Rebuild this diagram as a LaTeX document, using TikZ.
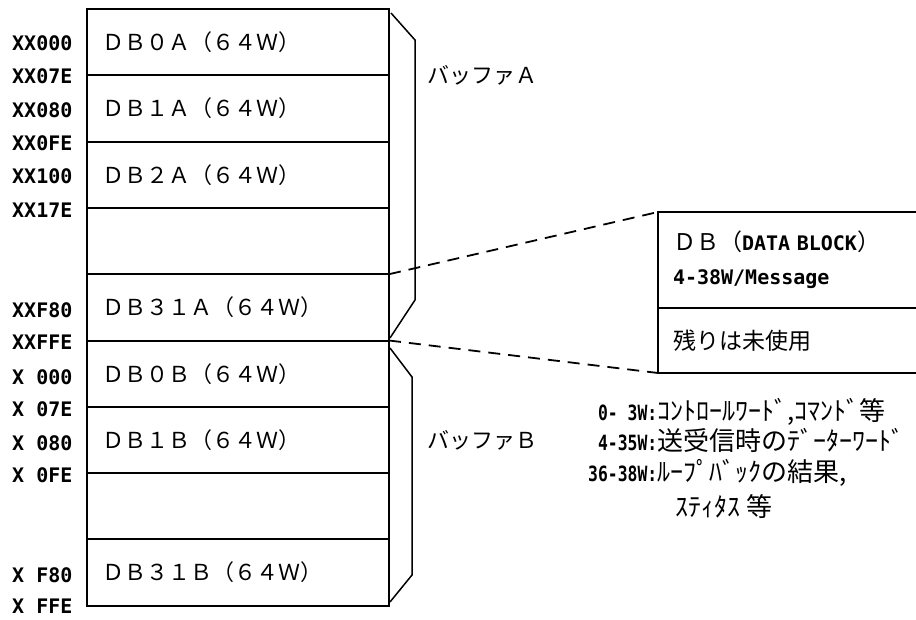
\documentclass[tikz,border=0pt]{standalone}
\usepackage{fontspec}
\newfontfamily\jpfont{Noto Sans CJK JP}
\newfontfamily\adrfont{DejaVu Sans Mono}
\newfontfamily\narrowfont[FakeStretch=0.78]{DejaVu Sans Mono}
\usetikzlibrary{positioning}

\begin{document}
\begin{tikzpicture}[x=1pt, y=-1pt,
  blk/.style={draw, line width=2pt, outer sep=0pt, minimum height=66.3pt,
    text width=272pt, inner xsep=15pt, inner ysep=0pt, align=left,
    font=\jpfont\fontsize{22}{22}\selectfont},
  dbx/.style={draw, line width=2pt, outer sep=0pt, text width=245pt,
    inner xsep=15pt, inner ysep=0pt, align=left},
  adr/.style={anchor=west, inner sep=0pt, font=\adrfont\bfseries\fontsize{20}{20}\selectfont},
  buf/.style={anchor=west, inner sep=0pt, font=\jpfont\fontsize{22}{22}\selectfont},
  zoomline/.style={line width=1.8pt, dash pattern=on 12pt off 8pt}]
  \path[use as bounding box, fill=white] (0,0) rectangle (916,619);

  \node[blk, anchor=north west] (r0) at (87,9) {ＤＢ０Ａ（６４Ｗ）};
  \node[blk, below=0pt of r0] (r1) {ＤＢ１Ａ（６４Ｗ）};
  \node[blk, below=0pt of r1] (r2) {ＤＢ２Ａ（６４Ｗ）};
  \node[blk, below=0pt of r2] (r3) {};
  \node[blk, below=0pt of r3] (r4) {ＤＢ３１Ａ（６４Ｗ）};
  \node[blk, below=0pt of r4] (r5) {ＤＢ０Ｂ（６４Ｗ）};
  \node[blk, below=0pt of r5] (r6) {ＤＢ１Ｂ（６４Ｗ）};
  \node[blk, below=0pt of r6] (r7) {};
  \node[blk, below=0pt of r7] (r8) {ＤＢ３１Ｂ（６４Ｗ）};

  \node[adr] (s0) at (12,43)  {XX000};
  \node[adr] (e0) at (12,76)  {XX07E};
  \node[adr] (s1) at (12,110) {XX080};
  \node[adr] (e1) at (12,143) {XX0FE};
  \node[adr] (s2) at (12,176) {XX100};
  \node[adr] (e2) at (12,210) {XX17E};
  \node[adr] (s4) at (12,310) {XXF80};
  \node[adr] (e4) at (12,342) {XXFFE};
  \node[adr] (s5) at (12,377) {X 000};
  \node[adr] (e5) at (12,409) {X 07E};
  \node[adr] (s6) at (12,443) {X 080};
  \node[adr] (e6) at (12,475) {X 0FE};
  \node[adr] (s8) at (12,575) {X F80};
  \node[adr] (e8) at (12,606) {X FFE};

  \draw[line width=1.5pt] (391,13) -- (415,40) -- (415,300) -- (390,338);
  \draw[line width=1.5pt] (390,348) -- (412,377) -- (412,575) -- (390,602);
  \node[buf] (bufa) at (427,75)  {バッファＡ};
  \node[buf] (bufb) at (427,440) {バッファＢ};

  \node[dbx, minimum height=96pt, anchor=north west,
    font=\adrfont\bfseries\fontsize{20}{34}\selectfont] (dbtop) at (658,212)
    {{\jpfont\mdseries\fontsize{23}{34}\selectfont ＤＢ（}DATA BLOCK{\jpfont\mdseries\fontsize{23}{34}\selectfont ）}\\4-38W/Message};
  \node[dbx, minimum height=65pt, below=0pt of dbtop,
    font=\jpfont\fontsize{23}{23}\selectfont] (dbrest) {残りは未使用};

  \draw[zoomline] (r4.north east) -- (dbtop.north west);
  \draw[zoomline] (r4.south east) -- (dbrest.south west);

  \node[anchor=base west, inner sep=0pt, font=\fontsize{26}{27}\selectfont] (note) at (588,420) {%
    \begin{tabular}[t]{@{}r@{}l@{}}
      {\narrowfont\bfseries\fontsize{21}{27}\selectfont 0- 3W:} & {\jpfont ｺﾝﾄﾛｰﾙﾜｰﾄﾞ,ｺﾏﾝﾄﾞ等}\\
      {\narrowfont\bfseries\fontsize{21}{27}\selectfont 4-35W:} & {\jpfont 送受信時のﾃﾞｰﾀｰﾜｰﾄﾞ}\\[1pt]
      {\narrowfont\bfseries\fontsize{21}{27}\selectfont 36-38W:} & {\jpfont ﾙｰﾌﾟﾊﾞｯｸの結果,}\\[5pt]
      & {\jpfont\hspace{18pt}ｽﾃｨﾀｽ 等}
    \end{tabular}};
\end{tikzpicture}
\end{document}
